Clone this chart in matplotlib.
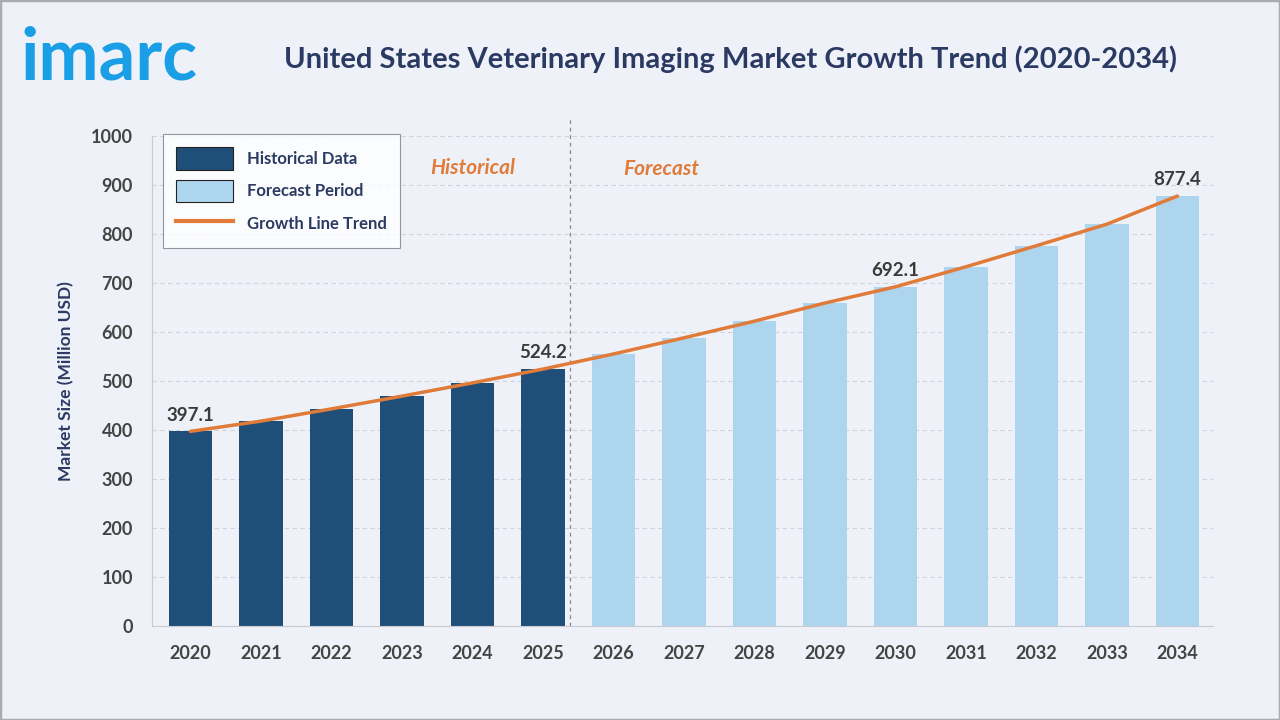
import matplotlib

matplotlib.use("Agg")
import matplotlib.pyplot as plt
from matplotlib.patches import Patch
from matplotlib.lines import Line2D

years = ["2020", "2021", "2022", "2023", "2024", "2025", "2026", "2027",
         "2028", "2029", "2030", "2031", "2032", "2033", "2034"]
market_size = [397.1, 418, 443, 469, 496, 524.2, 555, 588, 622, 659,
               692.1, 733, 776, 820, 877.4]
n_hist = 6
labelled = {"2020": 397.1, "2025": 524.2, "2030": 692.1, "2034": 877.4}

DARK = "#1f4e79"
LIGHT = "#aed5ee"
ORANGE = "#e07b39"
NAVY = "#2b3a63"
BG = "#eef2f8"

plt.rcParams["font.family"] = ["Lato", "DejaVu Sans"]

fig = plt.figure(figsize=(12.8, 7.2), dpi=100, facecolor=BG)
ax = fig.add_axes([0.119, 0.1306, 0.829, 0.6806])
ax.set_facecolor(BG)

x = list(range(len(years)))
colors = [DARK if i < n_hist else LIGHT for i in x]
ax.bar(x, market_size, width=0.62, color=colors, zorder=2)
ax.plot(x, market_size, color=ORANGE, lw=2.5, zorder=3, solid_capstyle="round")

for i, yr in enumerate(years):
    if yr in labelled:
        ax.text(i, market_size[i] + 16, f"{labelled[yr]:.1f}", ha="center",
                va="bottom", fontsize=13.5, fontweight="bold", color="#3a3a3a",
                zorder=4)

ax.set_xlim(-0.54, 14.51)
ax.set_ylim(0, 1000)
ax.set_yticks(range(0, 1001, 100))
ax.set_xticks(x)
ax.set_xticklabels(years)
ax.tick_params(axis="both", length=0, labelsize=13, labelcolor="#444444")
ax.tick_params(axis="x", pad=14)
ax.tick_params(axis="y", pad=14)
for lab in ax.get_xticklabels() + ax.get_yticklabels():
    lab.set_fontweight("bold")
ax.grid(axis="y", ls=(0, (4, 3)), color="#cfd4dc", lw=0.8, zorder=0)
for side in ["top", "right"]:
    ax.spines[side].set_visible(False)
ax.spines["left"].set_color("#c8ccd2")
ax.spines["bottom"].set_color("#c8ccd2")

# divider between historical and forecast
ax.plot([5.38, 5.38], [0, 1035], ls=(0, (3, 3)), color="#888888", lw=0.9,
        clip_on=False, zorder=1)
ax.text(4.0, 915, "Historical", ha="center", va="bottom", fontsize=15,
        fontweight="bold", style="italic", color=ORANGE)
ax.text(6.68, 913, "Forecast", ha="center", va="bottom", fontsize=15,
        fontweight="bold", style="italic", color=ORANGE)

ax.set_ylabel("Market Size (Million USD)", fontsize=12.5, fontweight="bold",
              color=NAVY, labelpad=12)

handles = [
    Patch(facecolor=DARK, edgecolor="#222222", lw=0.8, label="Historical Data"),
    Patch(facecolor=LIGHT, edgecolor="#222222", lw=0.8, label="Forecast Period"),
    Line2D([0], [0], color=ORANGE, lw=3, label="Growth Line Trend"),
]
leg = ax.legend(handles=handles, loc="upper left", bbox_to_anchor=(0.01, 1.004),
                borderaxespad=0, frameon=True, fancybox=False, fontsize=12,
                handlelength=3.4, handleheight=1.7, labelspacing=0.6,
                borderpad=0.8, handletextpad=0.85, labelcolor=NAVY)
leg.get_frame().set_edgecolor("#7a7f88")
leg.get_frame().set_linewidth(0.8)
for t in leg.get_texts():
    t.set_fontweight("bold")

fig.text(0.016, 0.918, "imarc", fontsize=52, color="#1a9fe6",
         ha="left", va="center", fontweight="bold")
fig.text(0.571, 0.918, "United States Veterinary Imaging Market Growth Trend (2020-2034)",
         fontsize=21, fontweight="bold", color=NAVY, ha="center", va="center")

fig.patches.append(plt.Rectangle((0, 0), 1, 1, transform=fig.transFigure,
                                 fill=False, edgecolor="#a9abb0", lw=2.5))

fig.savefig("out.png", dpi=100, facecolor=BG)
